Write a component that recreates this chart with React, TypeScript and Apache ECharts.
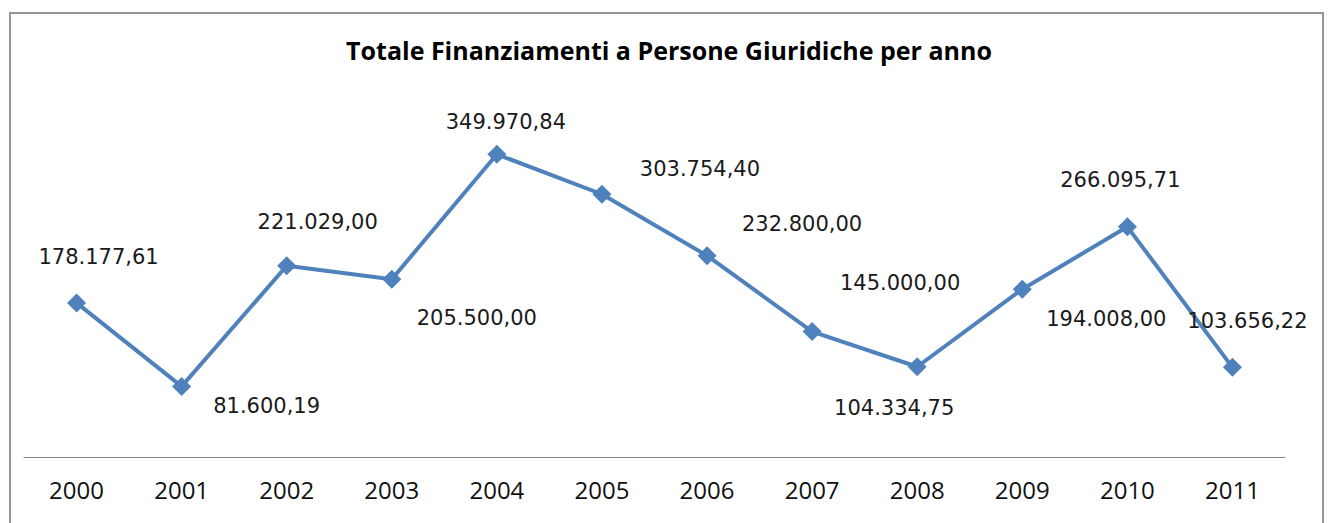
import React, { useEffect, useRef } from "react";
import * as echarts from "echarts";

const years = ["2000", "2001", "2002", "2003", "2004", "2005", "2006", "2007", "2008", "2009", "2010", "2011"];
const totals = [178177.61, 81600.19, 221029.0, 205500.0, 349970.84, 303754.4, 232800.0, 145000.0, 104334.75, 194008.0, 266095.71, 103656.22];
// label offsets relative to each point (label placement in the original)
const labelOffsets: [number, number][] = [
  [22, -46], [85, 20], [31, -44], [85, 39], [9, -32], [98, -25],
  [95, -32], [88, -49], [-23, 41], [84, 30], [-7, -47], [15, -46],
];
const titleText = "Totale Finanziamenti a Persone Giuridiche per anno";

function fmtIt(v: number): string {
  const fixed = v.toFixed(2);
  const [intPart, dec] = fixed.split(".");
  const grouped = intPart.replace(/\B(?=(\d{3})+(?!\d))/g, ".");
  return grouped + "," + dec;
}

export default function App() {
  const ref = useRef<HTMLDivElement>(null);
  useEffect(() => {
    if (!ref.current) return;
    const chart = echarts.init(ref.current, undefined, { renderer: "svg" });
    chart.setOption({
      animation: false,
      backgroundColor: "#ffffff",
      graphic: [
        {
          type: "rect",
          shape: { x: 10, y: 13, width: 1313, height: 600 },
          style: { fill: "none", stroke: "#959595", lineWidth: 2 },
          z: 0,
        },
        {
          type: "text",
          x: 669,
          y: 50,
          style: {
            text: titleText,
            fontFamily: "Open Sans",
            fontWeight: "bold",
            fontSize: 25,
            fill: "#000000",
            textAlign: "center",
            textVerticalAlign: "middle",
          },
        },
      ],
      grid: { left: 24, right: 44, top: 111, bottom: 66, containLabel: false },
      xAxis: {
        type: "category",
        data: years,
        boundaryGap: true,
        axisLine: { lineStyle: { color: "#868686", width: 1 } },
        axisTick: { show: false },
        axisLabel: {
          fontFamily: "Open Sans",
          fontSize: 24,
          color: "#111111",
          margin: 20,
        },
      },
      yAxis: {
        type: "value",
        min: 0,
        max: 400000,
        show: false,
        splitLine: { show: false },
      },
      series: [
        {
          type: "line",
          data: totals.map((v, i) => ({
            value: v,
            label: { offset: labelOffsets[i] },
          })),
          symbol: "diamond",
          symbolSize: 19,
          lineStyle: { color: "#4f81bd", width: 4 },
          itemStyle: { color: "#4f81bd" },
          label: {
            show: true,
            position: "inside",
            formatter: (p: any) => fmtIt(p.value),
            fontFamily: "DejaVu Sans",
            fontSize: 21,
            color: "#1a1a1a",
            align: "center",
            verticalAlign: "middle",
          },
        },
      ],
    });
    return () => chart.dispose();
  }, []);
  return (
    <div
      ref={ref}
      style={{ position: "fixed", left: 0, top: 0, width: 1329, height: 523 }}
    />
  );
}
